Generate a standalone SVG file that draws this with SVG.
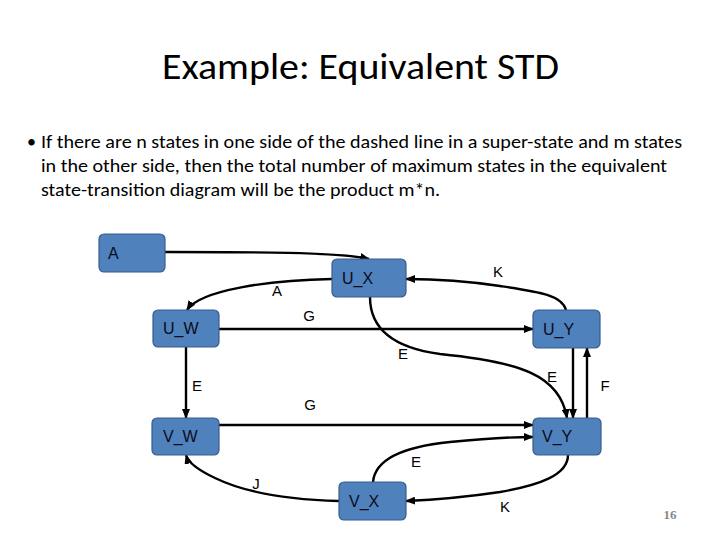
<svg xmlns="http://www.w3.org/2000/svg" width="720" height="540" viewBox="0 0 720 540">
<defs>
<marker id="arr" markerUnits="userSpaceOnUse" markerWidth="10" markerHeight="8" refX="9" refY="4" orient="auto">
<path d="M0,0 L10,4 L0,8 z" fill="#000"/>
</marker>
<style>
.node rect{fill:#4f81bd;stroke:#385d8a;stroke-width:1.2}
.node text{font-family:"Liberation Sans",Arial,sans-serif;font-size:16px;fill:#0b0b1a}
.conn path{fill:none;stroke:#000;stroke-width:2.4;marker-end:url(#arr)}
.lbl{font-family:"Liberation Sans",Arial,sans-serif;font-size:15px;fill:#000;text-anchor:middle}
.title{font-family:Carlito,"Liberation Sans",sans-serif;font-size:36px;fill:#000}
.body{font-family:Carlito,"Liberation Sans",sans-serif;font-size:18px;fill:#000}
</style>
</defs>
<rect width="720" height="540" fill="#fff"/>
<text class="title" x="162" y="79" textLength="397" lengthAdjust="spacingAndGlyphs">Example: Equivalent STD</text>
<text class="body" x="27" y="148" font-size="15">•</text>
<text class="body" x="41" y="148" textLength="641" lengthAdjust="spacingAndGlyphs">If there are n states in one side of the dashed line in a super-state and m states</text>
<text class="body" x="41" y="172" textLength="626" lengthAdjust="spacingAndGlyphs">in the other side, then the total number of maximum states in the equivalent</text>
<text class="body" x="41" y="196" textLength="399" lengthAdjust="spacingAndGlyphs">state-transition diagram will be the product m*n.</text>

<g id="connectors" class="conn">
<path d="M165,252 C250,252 340,252 369,259"/>
<path d="M332,279 C270,280 200,290 187,310"/>
<path d="M219,329 L533,329"/>
<path d="M566,310 C562,295 540,292 500,286 C460,280 430,279 406,279"/>
<path d="M370,297 C370,330 395,348 440,354 C520,362 560,375 567,418"/>
<path d="M573,348 L573,418"/>
<path d="M587,418 L587,348"/>
<path d="M186,347 L186,418"/>
<path d="M219,425 L533,425"/>
<path d="M373,482 C375,460 400,447 450,442 C490,438 510,437 533,437"/>
<path d="M568,455 C568,475 540,485 500,492 C460,498 430,500 406,501"/>
<path d="M339,501 C300,500 250,495 215,478 C198,470 188,462 186,455"/>
</g>

<g id="labels">
<text class="lbl" x="277" y="296">A</text>
<text class="lbl" x="309" y="321">G</text>
<text class="lbl" x="498" y="277">K</text>
<text class="lbl" x="403" y="359">E</text>
<text class="lbl" x="552" y="382">E</text>
<text class="lbl" x="605" y="391">F</text>
<text class="lbl" x="197" y="391">E</text>
<text class="lbl" x="310" y="410">G</text>
<text class="lbl" x="416" y="467">E</text>
<text class="lbl" x="256" y="489">J</text>
<text class="lbl" x="505" y="512">K</text>
</g>

<g id="node-A" class="node"><rect x="99" y="234" width="66" height="38" rx="5"/><text x="108" y="259">A</text></g>
<g id="node-UX" class="node"><rect x="332" y="259" width="74" height="38" rx="5"/><text x="342" y="284">U_X</text></g>
<g id="node-UW" class="node"><rect x="153" y="310" width="66" height="37" rx="5"/><text x="163" y="334">U_W</text></g>
<g id="node-UY" class="node"><rect x="533" y="310" width="67" height="38" rx="5"/><text x="543" y="335">U_Y</text></g>
<g id="node-VW" class="node"><rect x="152" y="418" width="67" height="37" rx="5"/><text x="163" y="442">V_W</text></g>
<g id="node-VY" class="node"><rect x="533" y="418" width="68" height="37" rx="5"/><text x="542" y="442">V_Y</text></g>
<g id="node-VX" class="node"><rect x="339" y="482" width="67" height="38" rx="5"/><text x="349" y="507">V_X</text></g>

<text x="670" y="519" font-family="Liberation Serif,serif" font-size="13" font-weight="bold" fill="#888" text-anchor="middle">16</text>
</svg>
